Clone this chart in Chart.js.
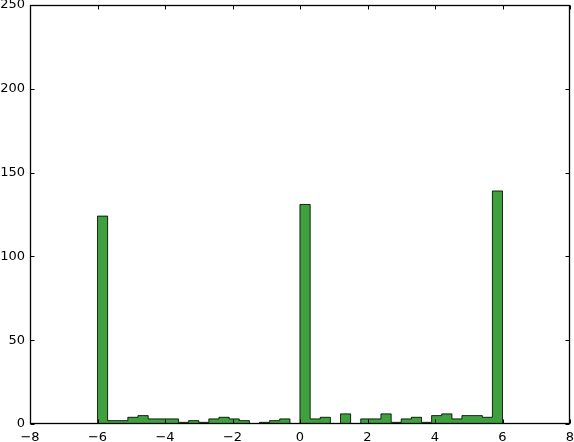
<!DOCTYPE html>
<html>
<head>
<meta charset="utf-8">
<script src="https://cdn.jsdelivr.net/npm/chart.js@4"></script>
<style>
html,body{margin:0;padding:0;background:#fff;}
#wrap{width:574px;height:442px;position:relative;}
</style>
</head>
<body>
<div id="wrap"><canvas id="c" width="574" height="442"></canvas></div>
<script>
// histogram: 40 bins of width 0.3 starting at -6
const binStart = -6;
const binWidth = 0.3;
const counts = [124,2,2,4,5,3,3,3,1,2, 1,3,4,3,2,0,1,2,3,0,
                131,3,4,0,6,0,3,3,6,1, 3,4,1,5,6,3,5,5,4,139];
const xTicks = [-8,-6,-4,-2,0,2,4,6,8];
const yTicks = [0,50,100,150,200,250];

const edges = counts.map((_, i) => +(binStart + i * binWidth).toFixed(4));
const lastEdge = +(binStart + counts.length * binWidth).toFixed(4);
const barData = counts.map((c, i) => ({x: edges[i] + binWidth / 2, y: c}));
const stepData = [{x: edges[0], y: 0}]
  .concat(counts.map((c, i) => ({x: edges[i], y: c})))
  .concat([{x: lastEdge, y: 0}]);

const frameTicks = {
  id: 'frameTicks',
  afterDraw(chart) {
    const {ctx, chartArea: a, scales: {x, y}} = chart;
    ctx.save();
    ctx.strokeStyle = '#000';
    ctx.lineWidth = 1;
    const L = Math.round(a.left) + 0.5, R = Math.round(a.right) - 0.5;
    const T = Math.round(a.top) + 0.5, B = Math.round(a.bottom) - 0.5;
    ctx.beginPath();
    xTicks.forEach(v => {
      const p = Math.round(x.getPixelForValue(v)) + 0.5;
      ctx.moveTo(p, B); ctx.lineTo(p, B - 4);
      ctx.moveTo(p, T); ctx.lineTo(p, T + 4);
    });
    yTicks.forEach(v => {
      const p = Math.round(y.getPixelForValue(v)) + 0.5;
      ctx.moveTo(L, p); ctx.lineTo(L + 4, p);
      ctx.moveTo(R, p); ctx.lineTo(R - 4, p);
    });
    ctx.stroke();
    ctx.lineWidth = 1.3;
    ctx.strokeRect(L, T, R - L, B - T);
    ctx.restore();
  }
};

new Chart(document.getElementById('c'), {
  type: 'bar',
  data: {
    datasets: [
      {
        type: 'line',
        data: stepData,
        stepped: 'before',
        borderColor: 'rgba(0,0,0,0.75)',
        borderWidth: 1,
        pointRadius: 0,
        fill: false,
        order: 0
      },
      {
        type: 'bar',
        data: barData,
        backgroundColor: '#40a040',
        borderWidth: 0,
        barPercentage: 1,
        categoryPercentage: 1,
        order: 1
      }
    ]
  },
  options: {
    responsive: false,
    animation: false,
    events: [],
    layout: {padding: {top: 5, right: 4, left: 0, bottom: 0}},
    plugins: {legend: {display: false}, tooltip: {enabled: false}},
    scales: {
      x: {
        type: 'linear',
        offset: false,
        min: -8, max: 8,
        afterBuildTicks(s) { s.ticks = xTicks.map(v => ({value: v})); },
        afterFit(s) { s.height = 18; s.paddingLeft = 0; s.paddingRight = 0; },
        grid: {display: false, drawTicks: false, offset: false},
        border: {display: false},
        ticks: {
          padding: 6,
          autoSkip: false,
          maxRotation: 0,
          color: '#000',
          font: {family: 'DejaVu Sans', size: 13},
          callback: v => String(v).replace('-', '\u2212')
        }
      },
      y: {
        type: 'linear',
        min: 0, max: 250,
        afterBuildTicks(s) { s.ticks = yTicks.map(v => ({value: v})); },
        afterFit(s) { s.width = 30; s.paddingTop = 0; s.paddingBottom = 0; },
        grid: {display: false, drawTicks: false},
        border: {display: false},
        ticks: {
          padding: 5,
          color: '#000',
          font: {family: 'DejaVu Sans', size: 13},
          callback: v => String(v)
        }
      }
    }
  },
  plugins: [frameTicks]
});
</script>
</body>
</html>
